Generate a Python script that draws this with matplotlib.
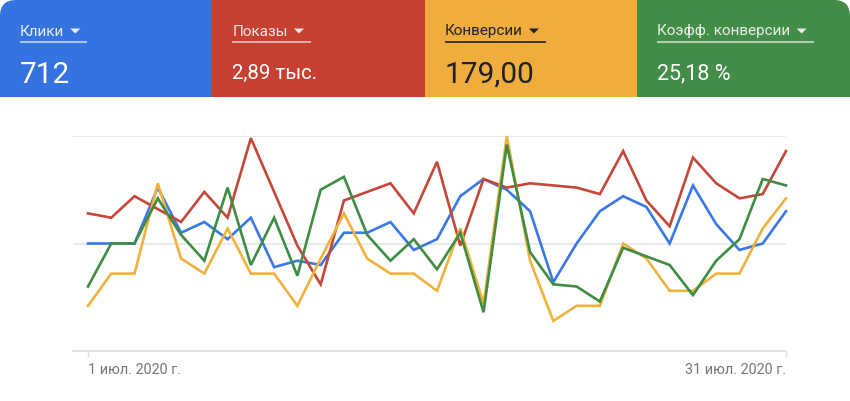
import matplotlib
matplotlib.use('Agg')
import matplotlib.pyplot as plt
from matplotlib.patches import FancyBboxPatch, Rectangle, Polygon

plt.rcParams['font.family'] = ['Roboto', 'DejaVu Sans']

# ── DATA ──────────────────────────────────────────────────────
days = list(range(1, 32))
tick_days = [1, 31]
tick_labels = ['1 июл. 2020 г.', '31 июл. 2020 г.']

metric_names  = ['Клики', 'Показы', 'Конверсии', 'Коэфф. конверсии']
metric_values = ['712', '2,89 тыс.', '179,00', '25,18 %']

# normalised series (0 = bottom line, 100 = top grid line)
clicks = [50, 50, 50, 76, 55, 60, 52, 62, 39, 42, 40, 55, 55, 60, 47, 52,
          72, 80, 75, 65, 32, 50, 65, 72, 67, 50, 77, 59, 47, 50, 65]
shows  = [64, 62, 72, 66, 60, 74, 62, 99, 74, 49, 31, 70, 74, 78, 64, 88,
          49, 80, 76, 78, 77, 76, 73, 93, 70, 58, 90, 78, 71, 73, 93]
conv   = [21, 36, 36, 78, 43, 36, 57, 36, 36, 21, 43, 64, 43, 36, 36, 28,
          57, 22, 100, 42, 14, 21, 21, 50, 43, 28, 28, 36, 36, 57, 71]
rate   = [30, 50, 50, 71, 54, 42, 76, 40, 62, 35, 75, 81, 54, 42, 52, 38,
          55, 18, 96, 46, 31, 30, 23, 48, 44, 40, 26, 42, 52, 80, 77]
series = [clicks, shows, conv, rate]

# ── STYLE ─────────────────────────────────────────────────────
TILE_COLORS = ['#3574E0', '#C84032', '#EFAD3D', '#438D48']
LINE_COLORS = ['#3B78E7', '#C5473A', '#F0B23C', '#3F8C43']
TEXT_COLORS = ['white', 'white', '#202124', 'white']
LABEL_ALPHA = [0.88, 0.88, 1.0, 0.88]
VALUE_SIZE  = [21.5, 14.7, 21.5, 15.5]
W, H = 850, 401
TILE_H = 97
RADIUS = 16
# ─────────────────────────────────────────────────────────────

fig = plt.figure(figsize=(W / 100, H / 100), dpi=100)
fig.patch.set_facecolor('white')

bg = fig.add_axes([0, 0, 1, 1])
bg.set_xlim(0, W)
bg.set_ylim(H, 0)
bg.axis('off')

tile_w = W / 4
fig.canvas.draw()
renderer = fig.canvas.get_renderer()
inv = bg.transData.inverted()

for i in range(4):
    x0 = i * tile_w
    col = TILE_COLORS[i]
    if i in (0, 3):
        bg.add_patch(FancyBboxPatch((x0, 0), tile_w, TILE_H,
                                    boxstyle=f'round,pad=0,rounding_size={RADIUS}',
                                    fc=col, ec='none'))
        bg.add_patch(Rectangle((x0, RADIUS * 2), tile_w, TILE_H - RADIUS * 2, fc=col, ec='none'))
        sx = x0 + RADIUS * 2 if i == 0 else x0
        bg.add_patch(Rectangle((sx, 0), tile_w - RADIUS * 2, TILE_H, fc=col, ec='none'))
    else:
        bg.add_patch(Rectangle((x0, 0), tile_w + 0.5, TILE_H, fc=col, ec='none'))

    tc = TEXT_COLORS[i]
    lx = x0 + 20
    lab = bg.text(lx, 35.5, metric_names[i], color=tc, alpha=LABEL_ALPHA[i],
                  fontsize=11, va='baseline', ha='left')
    bb = lab.get_window_extent(renderer)
    x_end = inv.transform((bb.x1, 0))[0]
    tx = x_end + 6
    bg.add_patch(Polygon([(tx, 28.5), (tx + 10, 28.5), (tx + 5, 33.5)],
                         closed=True, fc=tc, ec='none', alpha=LABEL_ALPHA[i]))
    bg.plot([lx, tx + 17], [42, 42], color=tc, lw=1.4,
            alpha=0.6 if tc == 'white' else 0.85, solid_capstyle='butt')
    # digits centred on y = 72 px
    digit_h = VALUE_SIZE[i] * 100 / 72 * 0.711
    bg.text(lx, 72 + digit_h / 2, metric_values[i], color=tc, fontsize=VALUE_SIZE[i],
            va='baseline', ha='left')

# ── chart ─────────────────────────────────────────────────────
x_left, x_first, x_last = 73, 88, 786
y_top, y_bot = 136, 351
step = (x_last - x_first) / (days[-1] - days[0])

ax = fig.add_axes([x_left / W, (H - y_bot) / H,
                   (x_last - x_left) / W, (y_bot - y_top) / H])
ax.set_facecolor('none')
ax.set_xlim(days[0] - (x_first - x_left) / step, days[-1])
ax.set_ylim(0, 100)

for s in ['top', 'right', 'left']:
    ax.spines[s].set_visible(False)
ax.spines['bottom'].set_color('#dedede')
ax.spines['bottom'].set_linewidth(1.2)

for g in (50, 100):
    ax.axhline(g, color='#e6e6e6', lw=1.2, zorder=0)

for vals, c in zip(series, LINE_COLORS):
    ax.plot(days, vals, color=c, lw=1.9, solid_joinstyle='miter', clip_on=False)

ax.set_yticks([])
ax.set_xticks(tick_days)
ax.set_xticklabels(tick_labels, fontsize=10.4, color='#757575')
ax.tick_params(axis='x', length=4, width=1, color='#dedede', pad=5)
labs = ax.get_xticklabels()
labs[0].set_ha('left')
labs[-1].set_ha('right')

plt.savefig('out.png', dpi=100, facecolor='white')
